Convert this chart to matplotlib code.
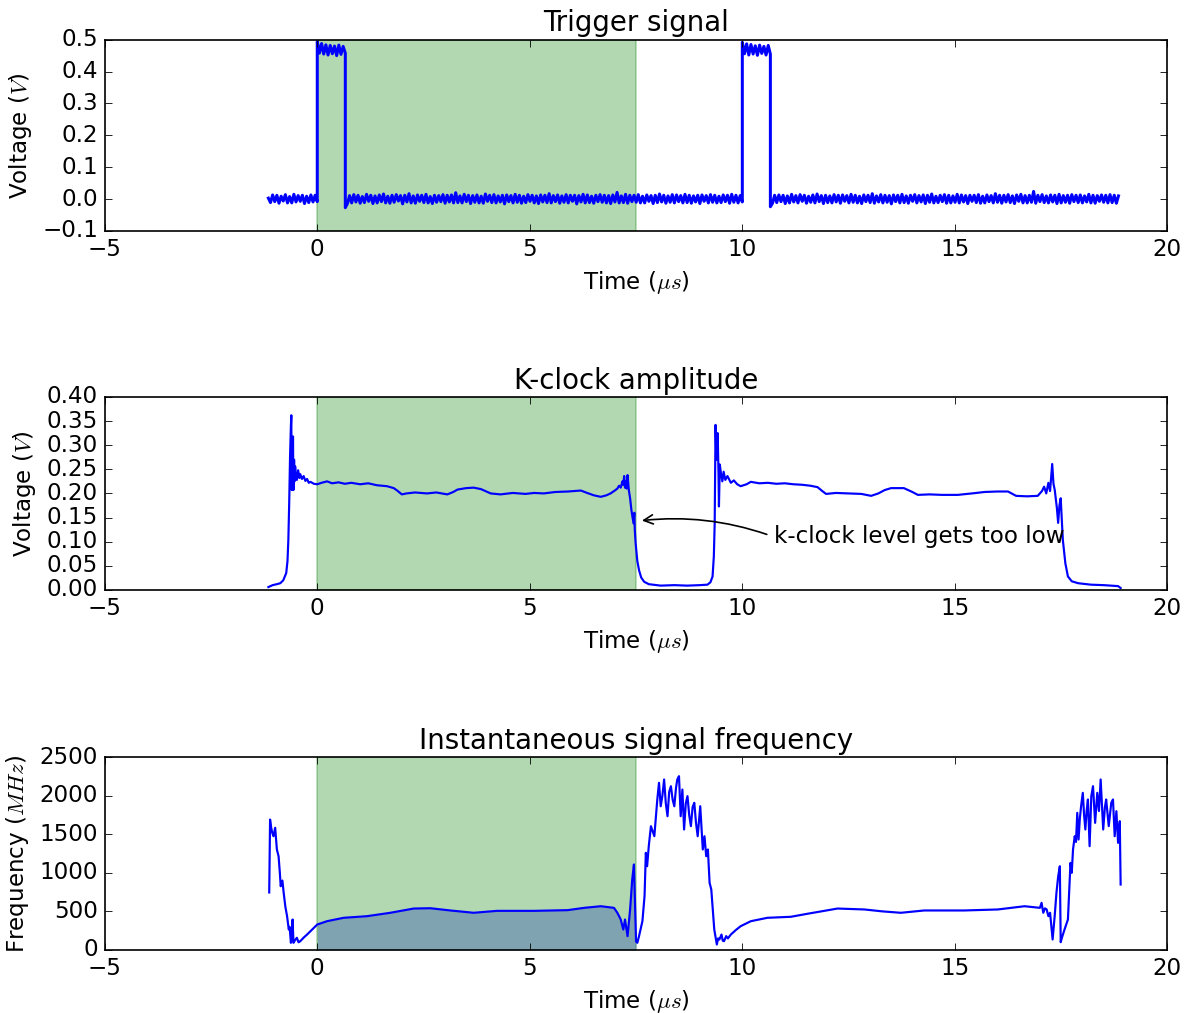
import matplotlib
matplotlib.use('Agg')
import matplotlib.pyplot as plt
import numpy as np

plt.style.use('classic')
plt.rcParams['figure.facecolor'] = 'white'
plt.rcParams['savefig.facecolor'] = 'white'
plt.rcParams['font.size'] = 13.8

# window of interest (green span)
span_start = 0.0
span_end = 7.5

# trigger signal, sampled every 0.05 us, in mV, one list per level segment
trig_low1 = [3, -11, 13, -8, 12, -13, 9, -6, 14, -12, 8, -12, 15, -9, 11, -7, 12, -14, 9, -11, 13, -9, 12, -8]
trig_high1 = [494, 458, 488, 455, 484, 452, 482, 456, 480, 450, 483, 454, 479, 458]
trig_low2 = [
    -27, -14, 11, -12, 14, -9, 12, -13, 8, -11, 15, -7, 12, -14, 10, -12, 13, -8, 16, -12,
    9, -13, 12, -10, 14, -6, 11, -15, 12, -9, 17, -12, 10, -13, 13, -7, 12, -11, 15, -12,
    8, -14, 12, -10, 11, -8, 14, -13, 12, -9, 13, -12, 20, -11, 10, -12, 15, -8, 12, -14,
    11, -10, 13, -12, 9, -13, 16, -7, 12, -11, 14, -12, 10, -9, 12, -15, 13, -8, 11, -12,
    15, -10, 12, -13, 9, -11, 14, -7, 12, -12, 10, -14, 13, -9, 12, -11, 17, -12, 11, -8,
    13, -13, 10, -10, 14, -12, 12, -7, 12, -15, 11, -9, 15, -12, 13, -11, 9, -13, 12, -8,
    14, -10, 12, -12, 11, -14, 13, -9, 21, -12, 10, -11, 15, -13, 12, -8, 12, -10, 14, -12,
    9, -12, 13, -7, 11, -14, 12, -11, 16, -9, 12, -13, 10, -10, 14, -12, 13, -8, 11, -12,
    15, -11, 12, -13, 10, -9, 12, -14, 13, -7, 11, -12, 14, -10, 12, -12, 9, -11, 13, -8,
    12, -13, 15, -10, 12, -12, 11, -9]
trig_high2 = [492, 456, 487, 452, 485, 455, 481, 451, 483, 457, 479, 452, 482, 455]
trig_low3 = [
    -24, -13, 12, -11, 13, -8, 12, -14, 10, -12, 15, -9, 11, -12, 14, -7, 12, -13, 9, -10,
    13, -12, 16, -8, 11, -14, 12, -11, 10, -12, 14, -9, 12, -13, 13, -7, 11, -12, 15, -10,
    12, -12, 9, -14, 13, -8, 12, -11, 17, -13, 10, -9, 14, -12, 12, -10, 11, -15, 13, -8,
    12, -12, 15, -11, 10, -13, 12, -7, 14, -12, 11, -9, 13, -14, 12, -10, 16, -12, 9, -11,
    12, -8, 14, -13, 12, -12, 10, -10, 15, -12, 13, -9, 11, -14, 12, -7, 12, -11, 14, -13,
    9, -12, 13, -8, 11, -12, 17, -10, 12, -13, 12, -9, 14, -11, 10, -14, 13, -7, 15, -12,
    11, -12, 12, -10, 24, -13, 12, -8, 14, -11, 10, -12, 13, -9, 12, -14, 15, -12, 11, -10,
    12, -13, 14, -8, 12, -11, 13, -12, 10, -9, 15, -12, 12, -13, 11, -7, 13, -10, 12, -12,
    14, -11, 12, -13, 10]
# (start, end) time of each segment in us
trig_edges = [(-1.15, 0.0), (0.0, 0.66), (0.66, 10.0), (10.0, 10.66), (10.66, 18.85)]

# k-clock amplitude
kclock_t = [-1.15, -1.05, -0.95, -0.87, -0.80, -0.73, -0.70, -0.68, -0.66, -0.64, -0.62, -0.61,
            -0.605, -0.60, -0.585, -0.57, -0.565, -0.56, -0.545, -0.535, -0.52, -0.50, -0.48,
            -0.45, -0.42, -0.40, -0.36, -0.32, -0.28, -0.24, -0.20, -0.16, -0.08, 0.00, 0.10,
            0.23, 0.35, 0.50, 0.65, 0.80, 1.01, 1.20, 1.40, 1.64, 1.80, 1.88, 1.99, 2.10, 2.30,
            2.58, 2.80, 3.06, 3.20, 3.30, 3.50, 3.68, 3.85, 3.98, 4.08, 4.31, 4.60, 4.90, 5.10,
            5.33, 5.60, 5.90, 6.20, 6.35, 6.51, 6.67, 6.80, 6.90, 7.00, 7.06, 7.10, 7.14, 7.18,
            7.20, 7.22, 7.24, 7.26, 7.28, 7.30, 7.33, 7.36, 7.39, 7.42, 7.44, 7.46, 7.47, 7.49,
            7.53, 7.57, 7.62, 7.69, 7.80, 8.08, 8.40, 8.70, 9.00, 9.18, 9.25, 9.30, 9.33, 9.35,
            9.36, 9.37, 9.39, 9.42, 9.44, 9.45, 9.47, 9.50, 9.53, 9.56, 9.60, 9.65, 9.73, 9.80,
            9.88, 9.96, 10.10, 10.20, 10.40, 10.60, 10.80, 11.00, 11.20, 11.40, 11.60, 11.77,
            11.88, 11.97, 12.20, 12.50, 12.80, 13.03, 13.20, 13.35, 13.50, 13.80, 14.00, 14.13,
            14.40, 14.70, 15.07, 15.40, 15.70, 16.00, 16.25, 16.44, 16.70, 16.95, 17.05, 17.10,
            17.15, 17.20, 17.24, 17.29, 17.32, 17.35, 17.40, 17.43, 17.46, 17.49, 17.52, 17.54,
            17.60, 17.66, 17.75, 17.90, 18.20, 18.50, 18.84, 18.90]
kclock_v = [0.006, 0.010, 0.012, 0.014, 0.020, 0.035, 0.060, 0.104, 0.180, 0.276, 0.340, 0.362,
            0.250, 0.207, 0.300, 0.318, 0.230, 0.207, 0.270, 0.225, 0.256, 0.235, 0.228,
            0.248, 0.232, 0.240, 0.230, 0.236, 0.226, 0.230, 0.222, 0.224, 0.220, 0.219, 0.222,
            0.225, 0.221, 0.223, 0.220, 0.222, 0.219, 0.221, 0.217, 0.215, 0.211, 0.206, 0.198,
            0.200, 0.202, 0.200, 0.202, 0.198, 0.203, 0.208, 0.211, 0.212, 0.209, 0.204, 0.200,
            0.198, 0.201, 0.199, 0.201, 0.200, 0.203, 0.204, 0.206, 0.201, 0.196, 0.193, 0.196,
            0.200, 0.206, 0.210, 0.216, 0.212, 0.225, 0.218, 0.236, 0.212, 0.226, 0.210, 0.238,
            0.207, 0.190, 0.166, 0.150, 0.138, 0.160, 0.125, 0.097, 0.060, 0.041, 0.026, 0.017,
            0.012, 0.009, 0.010, 0.009, 0.010, 0.011, 0.016, 0.028, 0.070, 0.139, 0.250, 0.342,
            0.270, 0.325, 0.240, 0.173, 0.260, 0.240, 0.225, 0.245, 0.228, 0.236, 0.222, 0.227,
            0.219, 0.215, 0.219, 0.224, 0.221, 0.222, 0.220, 0.221, 0.219, 0.218, 0.216, 0.213,
            0.205, 0.199, 0.201, 0.200, 0.199, 0.195, 0.200, 0.207, 0.211, 0.211, 0.203, 0.197,
            0.198, 0.197, 0.197, 0.200, 0.203, 0.204, 0.204, 0.195, 0.194, 0.195, 0.205, 0.214,
            0.200, 0.222, 0.205, 0.261, 0.220, 0.207, 0.170, 0.139, 0.175, 0.190, 0.140, 0.104,
            0.055, 0.028, 0.018, 0.014, 0.011, 0.010, 0.008, 0.004]

# instantaneous signal frequency (MHz)
freq_t = [-1.13, -1.11, -1.09, -1.06, -1.03, -0.99, -0.95, -0.91, -0.88, -0.86, -0.82, -0.79,
          -0.75, -0.71, -0.67, -0.65, -0.62, -0.60, -0.58, -0.56, -0.52, -0.48, -0.44, -0.40,
          -0.32, -0.24, -0.12, 0.00, 0.23, 0.62, 1.17, 1.72, 2.27, 2.66, 3.13, 3.68, 4.23, 5.10,
          5.89, 6.28, 6.67, 6.98, 7.06, 7.14, 7.20, 7.24, 7.30, 7.36, 7.41, 7.45, 7.47, 7.50,
          7.53, 7.57, 7.65, 7.70, 7.73, 7.76, 7.80, 7.85, 7.93, 8.00, 8.04, 8.08, 8.12, 8.16,
          8.20, 8.24, 8.28, 8.32, 8.36, 8.40, 8.44, 8.47, 8.51, 8.55, 8.59, 8.63, 8.67, 8.71,
          8.75, 8.79, 8.83, 8.87, 8.91, 8.95, 9.01, 9.07, 9.11, 9.15, 9.19, 9.23, 9.27, 9.30,
          9.34, 9.40, 9.43, 9.46, 9.51, 9.54, 9.57, 9.62, 9.66, 9.73, 9.85, 9.96, 10.20, 10.59,
          11.14, 11.53, 12.24, 12.87, 13.30, 13.73, 14.28, 15.22, 16.01, 16.64, 17.00, 17.04,
          17.08, 17.12, 17.16, 17.20, 17.24, 17.30, 17.35, 17.39, 17.43, 17.47, 17.49, 17.53,
          17.58, 17.66, 17.72, 17.75, 17.78, 17.82, 17.85, 17.88, 17.91, 17.94, 17.97, 18.01,
          18.04, 18.07, 18.10, 18.13, 18.17, 18.21, 18.25, 18.30, 18.35, 18.39, 18.43, 18.49,
          18.53, 18.56, 18.62, 18.68, 18.72, 18.76, 18.80, 18.84, 18.88, 18.90]
freq_v = [745, 1690, 1603, 1520, 1474, 1583, 1302, 1215, 1000, 826, 900, 741,
          560, 438, 265, 300, 93, 180, 395, 93, 130, 158, 100, 114,
          160, 200, 265, 330, 373, 417, 438, 482, 537, 541, 512, 482, 507, 507,
          516, 546, 567, 546, 482, 395, 265, 395, 179, 525, 913, 1108, 700, 110,
          93, 179, 375, 700, 1259, 1085, 1350, 1604, 1474, 1950, 2166, 1862, 2000, 2209,
          1900, 1733, 2050, 2122, 1950, 1862, 2100, 2209, 2252, 1733, 2079, 1561, 1900, 1993,
          1750, 1604, 1850, 1907, 1650, 1474, 1863, 1302, 1474, 1215, 1302, 870, 784, 567,
          265, 71, 150, 136, 200, 120, 114, 180, 150, 200, 260, 308, 373, 417,
          430, 469, 537, 525, 500, 482, 512, 512, 525, 567, 546, 611,
          482, 540, 525, 438, 482, 136, 450, 741, 950, 1085, 101, 180,
          265, 395, 1129, 1000, 1302, 1474, 1400, 1777, 1431, 1700, 1863, 2036,
          1750, 1561, 1800, 1950, 1345, 1993, 2122, 1647, 2036, 1800, 2209, 1561,
          1850, 1950, 1604, 1907, 1950, 1474, 1798, 1388, 1669, 848]

# assemble the trigger trace from its segments
trig_segments = [trig_low1, trig_high1, trig_low2, trig_high2, trig_low3]
trig_t = np.concatenate([np.linspace(a, b, len(s)) for (a, b), s in zip(trig_edges, trig_segments)])
trig_v = np.concatenate([np.array(s) / 1000.0 for s in trig_segments])

kclock_t = np.array(kclock_t)
kclock_v = np.array(kclock_v)
freq_t = np.array(freq_t)
freq_v = np.array(freq_v)

fig = plt.figure(figsize=(1190 / 120.0, 1013 / 120.0), dpi=120)
ax1 = fig.add_axes([0.088, 0.772, 0.893, 0.1888])
ax2 = fig.add_axes([0.088, 0.4176, 0.893, 0.1906])
ax3 = fig.add_axes([0.088, 0.0622, 0.893, 0.1905])

for ax in (ax1, ax2, ax3):
    ax.axvspan(span_start, span_end, facecolor='g', edgecolor='g', alpha=0.3)
    ax.set_xlim(-5, 20)
    ax.set_xticks([-5, 0, 5, 10, 15, 20])
    ax.set_xlabel(r'Time ($\mu s$)')

ax1.plot(trig_t, trig_v, 'b-', lw=1.8)
ax1.set_ylim(-0.1, 0.5)
ax1.set_yticks(np.arange(-0.1, 0.51, 0.1))
ax1.set_ylabel(r'Voltage ($V$)')
ax1.set_title('Trigger signal')

ax2.plot(kclock_t, kclock_v, 'b-', lw=1.3)
ax2.set_ylim(0, 0.4)
ax2.set_yticks(np.arange(0, 0.41, 0.05))
ax2.set_ylabel(r'Voltage ($V$)')
ax2.set_title('K-clock amplitude')
ax2.annotate('k-clock level gets too low', xy=(7.56, 0.143), xytext=(10.74, 0.11),
             va='center', ha='left',
             arrowprops=dict(arrowstyle='->', connectionstyle='arc3,rad=0.12',
                             relpos=(0.0, 0.5), color='k'))

inside = (freq_t >= span_start) & (freq_t <= span_end)
ax3.fill_between(freq_t[inside], 0, freq_v[inside], facecolor='#4d6fb1', alpha=0.5, linewidth=0)
ax3.plot(freq_t, freq_v, 'b-', lw=1.3)
ax3.set_ylim(0, 2500)
ax3.set_yticks(np.arange(0, 2501, 500))
ax3.set_ylabel(r'Frequency ($MHz$)')
ax3.set_title('Instantaneous signal frequency')

fig.savefig('out.png', dpi=120)
